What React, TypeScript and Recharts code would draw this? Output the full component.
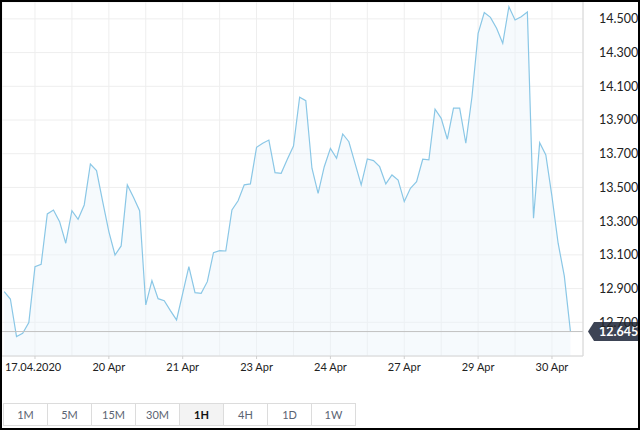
import { AreaChart, Area, XAxis, YAxis, CartesianGrid, ReferenceLine } from "recharts";

// hourly closes
const prices = [
  12.882, 12.838, 12.615, 12.635, 12.698, 13.03, 13.044, 13.343, 13.366, 13.297,
  13.169, 13.362, 13.311, 13.396, 13.639, 13.6, 13.416, 13.238, 13.099, 13.153,
  13.515, 13.442, 13.362, 12.803, 12.947, 12.84, 12.828, 12.769, 12.714, 12.872,
  13.03, 12.876, 12.872, 12.941, 13.113, 13.125, 13.123, 13.366, 13.421, 13.515,
  13.521, 13.738, 13.762, 13.781, 13.588, 13.584, 13.667, 13.746, 14.035, 14.015,
  13.614, 13.465, 13.623, 13.732, 13.673, 13.817, 13.771, 13.643, 13.515, 13.669,
  13.659, 13.623, 13.521, 13.574, 13.544, 13.416, 13.495, 13.534, 13.667, 13.663,
  13.964, 13.91, 13.786, 13.97, 13.97, 13.762, 14.038, 14.414, 14.537, 14.509,
  14.444, 14.355, 14.572, 14.493, 14.513, 14.541, 13.317, 13.765, 13.693, 13.445,
  13.169, 12.975, 12.645,
];
const lastPrice = 12.645;

const dayTickIndex = [5, 17, 29, 41, 53, 65, 77, 89];
const dayLabels = ["17.04.2020", "20 Apr", "21 Apr", "23 Apr", "24 Apr", "27 Apr", "29 Apr", "30 Apr"];
const gridIndex = [5, 11, 17, 23, 29, 35, 41, 47, 53, 59, 65, 71, 77, 83, 89];
const priceTicks = [12.7, 12.9, 13.1, 13.3, 13.5, 13.7, 13.9, 14.1, 14.3, 14.5];

const periods = ["1M", "5M", "15M", "30M", "1H", "4H", "1D", "1W"];
const activePeriod = "1H";

const data = prices.map((price, i) => ({ i, price }));

const font = "Lato, 'Noto Sans', sans-serif";

function DayTick(props: any) {
  const { x, y, payload } = props;
  const k = dayTickIndex.indexOf(payload.value);
  if (k < 0) return <g />;
  const first = k === 0;
  return (
    <g>
      <line x1={x} x2={x} y1={y - 7} y2={y - 4} stroke="#cfcfcf" />
      <text
        x={first ? x - 30 : x}
        y={y}
        dy="0.71em"
        textAnchor={first ? "start" : "middle"}
        fill="#222"
        fontSize={11}
        fontFamily={font}
      >
        {dayLabels[k]}
      </text>
    </g>
  );
}

function PriceBadge(props: any) {
  const vb = props.viewBox || {};
  const x = vb.x + vb.width;
  const y = vb.y;
  return (
    <g>
      <polygon
        points={`${x + 5},${y} ${x + 11},${y - 9.5} ${x + 70},${y - 9.5} ${x + 70},${y + 9.5} ${x + 11},${y + 9.5}`}
        fill="#3d4455"
      />
      <text x={x + 16} y={y} dy="0.36em" fill="#fff" fontSize={12.5} fontWeight={700} fontFamily={font}>
        {lastPrice.toFixed(3)}
      </text>
    </g>
  );
}

export default function App() {
  return (
    <div
      style={{
        position: "relative",
        width: 636,
        height: 426,
        border: "2px solid #000",
        background: "#fff",
        fontFamily: font,
      }}
    >
      <style>{"body{margin:0}"}</style>
      <AreaChart width={636} height={395} data={data} margin={{ top: 0, right: 0, bottom: 0, left: 0 }}>
        <CartesianGrid stroke="#eeeeee" />
        <XAxis
          dataKey="i"
          type="number"
          domain={[-0.36, 94.04]}
          allowDataOverflow
          ticks={gridIndex}
          interval={0}
          tick={<DayTick />}
          tickLine={false}
          tickSize={6}
          tickMargin={1}
          axisLine={{ stroke: "#d6d6d6" }}
          height={41}
        />
        <YAxis
          orientation="right"
          width={55}
          domain={[12.5, 14.6]}
          allowDataOverflow
          ticks={priceTicks}
          interval={0}
          tickFormatter={(v: number) => v.toFixed(3)}
          tick={{ fill: "#222", fontSize: 12.5, fontFamily: font }}
          tickLine={false}
          tickMargin={10}
          axisLine={{ stroke: "#d6d6d6" }}
        />
        <Area
          type="linear"
          dataKey="price"
          stroke="#8ac7e6"
          strokeWidth={1.2}
          fill="#eaf3fb"
          fillOpacity={0.45}
          dot={false}
          activeDot={false}
          isAnimationActive={false}
        />
        <ReferenceLine
          y={lastPrice}
          stroke="#c2c2c2"
          ifOverflow="visible"
          label={(p: any) => <PriceBadge {...p} />}
        />
      </AreaChart>
      <div style={{ position: "absolute", left: 1, top: 401, display: "flex" }}>
        {periods.map((p, k) => (
          <div
            key={p}
            style={{
              boxSizing: "border-box",
              width: 45,
              height: 23,
              marginLeft: k === 0 ? 0 : -1,
              border: "1px solid #dcdcdc",
              background: p === activePeriod ? "#f3f3f3" : "#fff",
              color: p === activePeriod ? "#111" : "#5b6472",
              fontWeight: p === activePeriod ? 700 : 400,
              fontSize: 11,
              lineHeight: "21px",
              textAlign: "center",
            }}
          >
            {p}
          </div>
        ))}
      </div>
    </div>
  );
}
